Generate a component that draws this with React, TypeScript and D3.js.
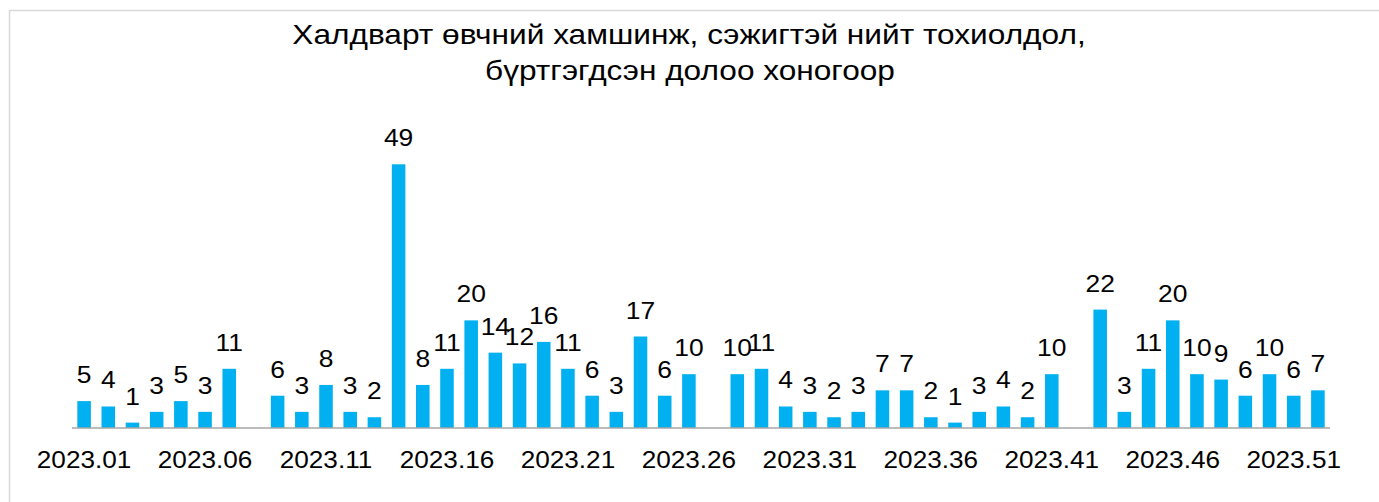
import React from "react";
import * as d3 from "d3";

const title1 = "Халдварт өвчний хамшинж, сэжигтэй нийт тохиолдол,";
const title2 = "бүртгэгдсэн долоо хоногоор";

const weeks = d3.range(1, 53).map((w) => `2023.${w < 10 ? "0" + w : w}`);
const cases = [
  5, 4, 1, 3, 5, 3, 11, 0, 6, 3, 8, 3, 2, 49, 8, 11, 20, 14, 12, 16, 11, 6, 3,
  17, 6, 10, 0, 10, 11, 4, 3, 2, 3, 7, 7, 2, 1, 3, 4, 2, 10, 0, 22, 3, 11, 20,
  10, 9, 6, 10, 6, 7,
];
const tickWeeks = weeks.filter((_, i) => i % 5 === 0);

const W = 1379;
const H = 502;
const font = "Arial, 'Liberation Sans', sans-serif";

// the source text is a bit wider than Arial at its height
function Label({ x, y, size, sx, children }: any) {
  return (
    <text
      transform={`translate(${x},${y}) scale(${sx},1)`}
      textAnchor="middle"
      fontFamily={font}
      fontSize={size}
      fill="#000"
    >
      {children}
    </text>
  );
}

export default function App() {
  const x = d3.scaleBand().domain(weeks).range([72, 1330]).paddingInner(0.44).paddingOuter(0.22);
  const y = d3.scaleLinear().domain([0, 49]).range([428, 164.3]);
  const cx = (w: string) => (x(w) as number) + x.bandwidth() / 2;

  return (
    <svg
      width={W}
      height={H}
      style={{ position: "absolute", left: 0, top: 0, background: "#fff" }}
    >
      <rect x={9.5} y={10.5} width={W + 20} height={H + 20} fill="#fff" stroke="#d9d9d9" strokeWidth={1.5} />
      <Label x={689} y={44} size={28} sx={1.13}>{title1}</Label>
      <Label x={690} y={80} size={28} sx={1.13}>{title2}</Label>
      <g>
        {weeks.map((w, i) =>
          cases[i] > 0 ? (
            <g key={w}>
              <rect
                x={x(w)}
                y={y(cases[i])}
                width={x.bandwidth()}
                height={y(0) - y(cases[i])}
                fill="#00b0f0"
              />
              <Label x={cx(w)} y={y(cases[i]) - 18} size={24} sx={1.1}>
                {cases[i]}
              </Label>
            </g>
          ) : null
        )}
      </g>
      <line x1={72} x2={1330} y1={428} y2={428} stroke="#a6a6a6" strokeWidth={1.5} />
      {tickWeeks.map((w) => (
        <Label key={w} x={cx(w)} y={468} size={24} sx={1.09}>
          {w}
        </Label>
      ))}
    </svg>
  );
}
